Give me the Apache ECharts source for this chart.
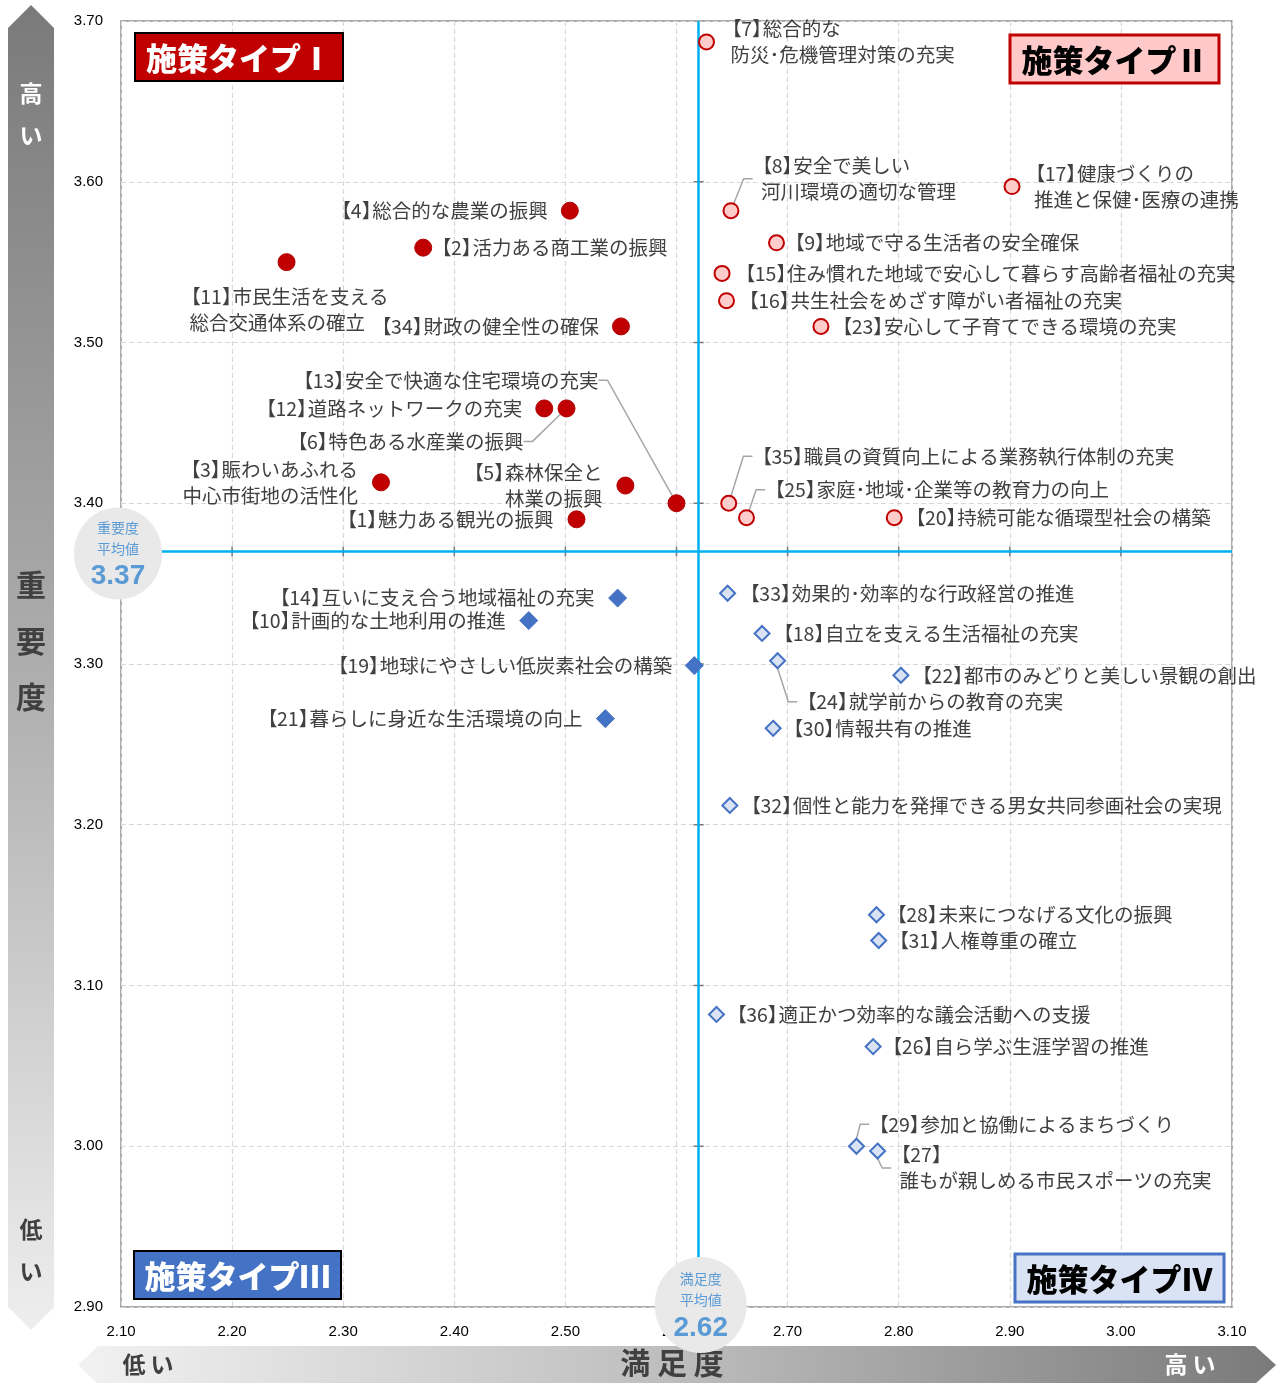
<!DOCTYPE html>
<html>
<head>
<meta charset="utf-8">
<title>施策の満足度・重要度</title>
<script src="https://cdn.jsdelivr.net/npm/echarts@6/dist/echarts.min.js"></script>
<style>
html, body { margin: 0; padding: 0; background: #fff; }
#chart { width: 1282px; height: 1383px; }
</style>
</head>
<body>
<div id="chart"></div>
<script>
// 施策ごとの満足度(x)・重要度(y)
var labels = [
    '【1】魅力ある観光の振興',
    '【2】活力ある商工業の振興',
    '【3】賑わいあふれる\n中心市街地の活性化',
    '【4】総合的な農業の振興',
    '【5】森林保全と\n林業の振興',
    '【6】特色ある水産業の振興',
    '【7】総合的な\n防災･危機管理対策の充実',
    '【8】安全で美しい\n河川環境の適切な管理',
    '【9】地域で守る生活者の安全確保',
    '【10】計画的な土地利用の推進',
    '【11】市民生活を支える\n総合交通体系の確立',
    '【12】道路ネットワークの充実',
    '【13】安全で快適な住宅環境の充実',
    '【14】互いに支え合う地域福祉の充実',
    '【15】住み慣れた地域で安心して暮らす高齢者福祉の充実',
    '【16】共生社会をめざす障がい者福祉の充実',
    '【17】健康づくりの\n推進と保健･医療の連携',
    '【18】自立を支える生活福祉の充実',
    '【19】地球にやさしい低炭素社会の構築',
    '【20】持続可能な循環型社会の構築',
    '【21】暮らしに身近な生活環境の向上',
    '【22】都市のみどりと美しい景観の創出',
    '【23】安心して子育てできる環境の充実',
    '【24】就学前からの教育の充実',
    '【25】家庭･地域･企業等の教育力の向上',
    '【26】自ら学ぶ生涯学習の推進',
    '【27】\n誰もが親しめる市民スポーツの充実',
    '【28】未来につなげる文化の振興',
    '【29】参加と協働によるまちづくり',
    '【30】情報共有の推進',
    '【31】人権尊重の確立',
    '【32】個性と能力を発揮できる男女共同参画社会の実現',
    '【33】効果的･効率的な行政経営の推進',
    '【34】財政の健全性の確保',
    '【35】職員の資質向上による業務執行体制の充実',
    '【36】適正かつ効率的な議会活動への支援'
];
var satisfaction = [
    2.510, 2.372, 2.334, 2.504, 2.554, 2.501, 2.627, 2.649, 2.690, 2.467,
    2.249, 2.481, 2.600, 2.547, 2.641, 2.645, 2.902, 2.677, 2.616, 2.796,
    2.536, 2.802, 2.730, 2.691, 2.663, 2.777, 2.781, 2.780, 2.762, 2.687,
    2.782, 2.648, 2.646, 2.550, 2.647, 2.636
];
var importance = [
    3.390, 3.559, 3.413, 3.582, 3.411, 3.459, 3.687, 3.582, 3.562, 3.327,
    3.550, 3.459, 3.400, 3.341, 3.543, 3.526, 3.597, 3.319, 3.299, 3.391,
    3.266, 3.293, 3.510, 3.302, 3.391, 3.062, 2.997, 3.144, 3.000, 3.260,
    3.128, 3.212, 3.344, 3.510, 3.400, 3.082
];
var meanSat = 2.62;
var meanImp = 3.37;
var xTicks = [2.1, 2.2, 2.3, 2.4, 2.5, 2.6, 2.7, 2.8, 2.9, 3.0, 3.1];
var yTicks = [2.9, 3.0, 3.1, 3.2, 3.3, 3.4, 3.5, 3.6, 3.7];
var typeNames = ['施策タイプⅠ', '施策タイプⅡ', '施策タイプⅢ', '施策タイプⅣ'];

// ラベルの配置 [dx, dy, 揃え, 引き出し線]
var labelPos = [
    [-23, 0, 'right', 0], [17, 0, 'left', 0], [-23, 0, 'right', 0], [-22, 0, 'right', 0],
    [-23, 0, 'right', 0], [-43, 33, 'right', 1], [24, 0, 'left', 0], [30, -32, 'left', 1],
    [17, 0, 'left', 0], [-23, 0, 'right', 0], [-97, 47, 'left', 0], [-22, 0, 'right', 0],
    [-78, -123, 'right', 1], [-23, 0, 'right', 0], [22, 0, 'left', 0], [21, 0, 'left', 0],
    [22, 0, 'left', 0], [20, 0, 'left', 0], [-22, 0, 'right', 0], [20, 0, 'left', 0],
    [-23, 0, 'right', 0], [20, 0, 'left', 0], [20, 0, 'left', 0], [28, 41, 'left', 1],
    [27, -28, 'left', 1], [18, 0, 'left', 0], [22, 17, 'left', 1], [19, 0, 'left', 0],
    [21, -22, 'left', 1], [19, 0, 'left', 0], [19, 0, 'left', 0], [20, 0, 'left', 0],
    [21, 0, 'left', 0], [-22, 0, 'right', 0], [32, -47, 'left', 1], [19, 0, 'left', 0]
];

var typeStyle = [
    { symbol: 'circle', size: 17, color: '#c00000', border: '#b00000', bw: 1 },
    { symbol: 'circle', size: 15, color: '#ffcccc', border: '#c00000', bw: 2 },
    { symbol: 'diamond', size: 18, color: '#4472c4', border: '#4472c4', bw: 1 },
    { symbol: 'diamond', size: 15, color: '#dae3f3', border: '#4472c4', bw: 2 }
];

var jpFont = '"Noto Sans CJK JP", sans-serif';
var numFont = '"Liberation Sans Narrow", "Liberation Sans", Arial, sans-serif';
var labelSize = 19.5;
var leadGap = 8.3;   // 【 の左の余白

function typeOf(i) {
    var hi = importance[i] >= meanImp;
    var right = satisfaction[i] >= meanSat;
    if (hi) return right ? 1 : 0;
    return right ? 3 : 2;
}

// 括弧の後ろの余白を詰める
function richLabel(s, align) {
    return s.split('\n').map(function (line) {
        var m = line.match(/^【(\d+)】(.*)$/);
        if (m) return '{lb|【}{dg|' + m[1] + '}{rb|】}' + m[2];
        return align === 'left' ? '{ind| }' + line : line;
    }).join('\n');
}
function tokenStyle(w) {
    var o = { align: 'left', fontSize: labelSize, fontFamily: jpFont, color: '#404040', lineHeight: 26 };
    if (w) o.width = w;
    return o;
}
var bracketStyle = {
    lb: tokenStyle(19),
    dg: tokenStyle(0),
    rb: tokenStyle(10.7),
    ind: tokenStyle(leadGap)
};

var seriesIdx = [[], [], [], []];
var series = [];
for (var t = 0; t < 4; t++) {
    var data = [];
    for (var i = 0; i < labels.length; i++) {
        if (typeOf(i) !== t) continue;
        seriesIdx[t].push(i);
        data.push({
            value: [satisfaction[i], importance[i]],
            name: labels[i],
            labelLine: { show: labelPos[i][3] === 1 }
        });
    }
    var st = typeStyle[t];
    series.push({
        name: typeNames[t],
        type: 'scatter',
        symbol: st.symbol,
        symbolSize: st.size,
        z: 5,
        itemStyle: { color: st.color, borderColor: st.border, borderWidth: st.bw, opacity: 1 },
        label: {
            show: true,
            formatter: function (p) {
                var k = seriesIdx[p.seriesIndex][p.dataIndex];
                return richLabel(p.name, labelPos[k][2]);
            },
            color: '#404040',
            fontFamily: jpFont,
            fontSize: labelSize,
            lineHeight: 26,
            rich: bracketStyle
        },
        labelLine: {
            length2: 9,
            lineStyle: { color: '#a6a6a6', width: 1.5 }
        },
        labelLayout: function (params) {
            var k = seriesIdx[params.seriesIndex][params.dataIndex];
            var p = labelPos[k];
            return {
                x: params.rect.x + params.rect.width / 2 + p[0] - (p[2] === 'left' ? leadGap : 0),
                y: params.rect.y + params.rect.height / 2 + p[1],
                align: p[2],
                verticalAlign: 'middle'
            };
        },
        data: data
    });
}

// 平均値の線
series.push({
    type: 'scatter',
    data: [],
    silent: true,
    markLine: {
        silent: true,
        symbol: ['none', 'none'],
        label: { show: false },
        lineStyle: { color: '#00b0f0', width: 2.5, type: 'solid' },
        data: [{ xAxis: meanSat }, { yAxis: meanImp }]
    }
});
// 平均値の線上の目盛り
series.push({
    type: 'scatter',
    silent: true,
    z: 4,
    symbol: 'rect',
    symbolSize: [1.5, 10],
    itemStyle: { color: '#595959' },
    data: xTicks.slice(1, -1).map(function (v) { return [v, meanImp]; })
});
series.push({
    type: 'scatter',
    silent: true,
    z: 4,
    symbol: 'rect',
    symbolSize: [10, 1.5],
    itemStyle: { color: '#595959' },
    data: yTicks.slice(1, -1).map(function (v) { return [meanSat, v]; })
});

var option = {
    animation: false,
    grid: {
        left: 121, right: 50, top: 21, bottom: 76,
        show: true, borderColor: '#8c8c8c', borderWidth: 1.5
    },
    xAxis: {
        type: 'value',
        min: 2.1, max: 3.1, interval: 0.1,
        axisLine: { show: false },
        axisTick: { show: false },
        axisLabel: {
            margin: 17, color: '#000', fontSize: 15, fontFamily: numFont,
            formatter: function (v) { return v.toFixed(2); }
        },
        splitLine: { lineStyle: { color: '#d9d9d9', type: [5, 3], width: 1.2 } }
    },
    yAxis: {
        type: 'value',
        min: 2.9, max: 3.7, interval: 0.1,
        axisLine: { show: false },
        axisTick: { show: false },
        axisLabel: {
            margin: 18, color: '#000', fontSize: 15, fontFamily: numFont,
            formatter: function (v) { return v.toFixed(2); }
        },
        splitLine: { lineStyle: { color: '#d9d9d9', type: [5, 3], width: 1.2 } }
    },
    series: series
};

var myChart = echarts.init(document.getElementById('chart'));
myChart.setOption(option);

// 平均値の吹き出し位置は軸から求める
var pImp = myChart.convertToPixel({ gridIndex: 0 }, [2.1, meanImp]);
var pSat = myChart.convertToPixel({ gridIndex: 0 }, [meanSat, 2.9]);

function bigText(x, y, s, size, color) {
    return {
        type: 'text', x: x, y: y, z: 20,
        style: {
            text: s, fill: color, font: 'bold ' + size + 'px ' + jpFont,
            align: 'center', verticalAlign: 'middle'
        }
    };
}

function typeBox(x, y, w, h, fill, stroke, lw, textColor, s) {
    return [
        { type: 'rect', z: 20, shape: { x: x, y: y, width: w, height: h },
          style: { fill: fill, stroke: stroke, lineWidth: lw } },
        { type: 'text', z: 21, x: x + w / 2, y: y + h / 2 + 1,
          style: { text: s, fill: textColor, font: '900 31px ' + jpFont,
                   align: 'center', verticalAlign: 'middle' } }
    ];
}

function meanBadge(cx, cy, rx, ry, v) {
    return [
        { type: 'ellipse', z: 30, shape: { cx: cx, cy: cy, rx: rx, ry: ry },
          style: { fill: '#e9e9e9' } },
        { type: 'text', z: 31, x: cx, y: cy - 26,
          style: { text: v[0], fill: '#5b9bd5', font: '14px ' + jpFont, align: 'center', verticalAlign: 'middle' } },
        { type: 'text', z: 31, x: cx, y: cy - 5,
          style: { text: '平均値', fill: '#5b9bd5', font: '14px ' + jpFont, align: 'center', verticalAlign: 'middle' } },
        { type: 'text', z: 31, x: cx, y: cy + 23,
          style: { text: v[1], fill: '#5b9bd5', font: 'bold 28px ' + numFont, align: 'center', verticalAlign: 'middle' } }
    ];
}

var graphics = [
    // 縦の矢印（重要度）
    {
        type: 'polygon', z: 1,
        shape: { points: [[31, 5], [54, 28], [54, 1307], [31, 1330], [8, 1307], [8, 28]] },
        style: {
            fill: new echarts.graphic.LinearGradient(0, 0, 0, 1, [
                { offset: 0, color: '#7a7a7a' },
                { offset: 0.5, color: '#adadad' },
                { offset: 1, color: '#eeeeee' }
            ])
        }
    },
    // 横の矢印（満足度）
    {
        type: 'polygon', z: 1,
        shape: { points: [[78, 1365], [98, 1346], [1255, 1346], [1276, 1365], [1255, 1384], [98, 1384]] },
        style: {
            fill: new echarts.graphic.LinearGradient(0, 0, 1, 0, [
                { offset: 0, color: '#f2f2f2' },
                { offset: 0.5, color: '#bdbdbd' },
                { offset: 1, color: '#7a7a7a' }
            ])
        }
    },
    bigText(31, 93, '高', 23, '#fff'),
    bigText(31, 135, 'い', 23, '#fff'),
    bigText(31, 585, '重', 30, '#404040'),
    bigText(31, 641, '要', 30, '#404040'),
    bigText(31, 697, '度', 30, '#404040'),
    bigText(31, 1229, '低', 23, '#404040'),
    bigText(31, 1271, 'い', 23, '#404040'),
    bigText(148, 1364, '低 い', 23, '#404040'),
    bigText(672, 1363, '満 足 度', 30, '#404040'),
    bigText(1190, 1364, '高 い', 23, '#fff')
];
graphics = graphics.concat(
    typeBox(135, 33, 208, 48, '#c00000', '#000', 2, '#fff', typeNames[0]),
    typeBox(1010, 35, 209, 48, '#ffc9c9', '#c00000', 3, '#000', typeNames[1]),
    typeBox(134, 1251, 207, 48, '#4472c4', '#000', 2, '#fff', typeNames[2]),
    typeBox(1015, 1254, 209, 48, '#dae3f3', '#4472c4', 3, '#000', typeNames[3]),
    meanBadge(pImp[0] - 3, pImp[1] + 2, 44, 46, ['重要度', meanImp.toFixed(2)]),
    meanBadge(pSat[0] + 2, pSat[1] - 2, 46, 48, ['満足度', meanSat.toFixed(2)])
);

myChart.setOption({ graphic: graphics });
</script>
</body>
</html>
